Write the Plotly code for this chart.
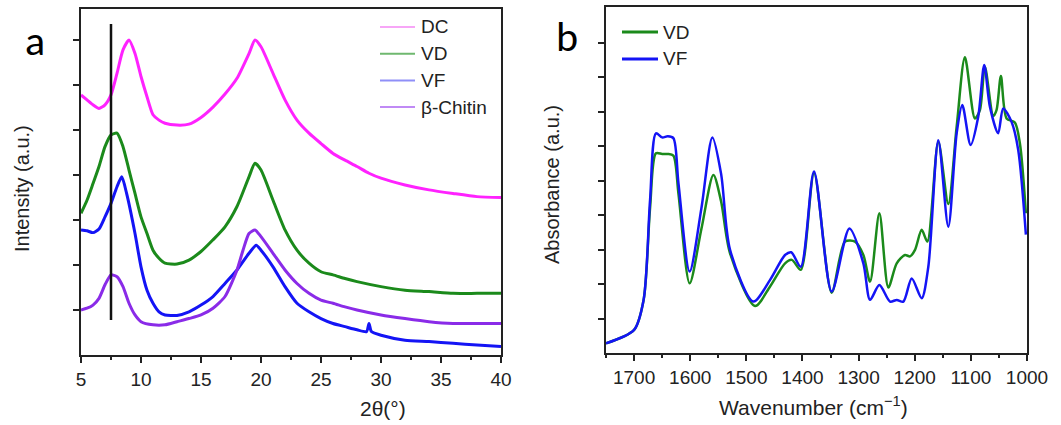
import plotly.graph_objects as go

# ---------------- Panel a: XRD ----------------
dc_x = [5, 5.5, 6, 6.5, 7, 7.5, 8, 8.5, 9, 9.5, 10, 10.5, 11, 11.5, 12, 13, 14, 15, 16, 17, 18, 19, 19.5, 20,
        21, 22, 23, 24, 25, 26, 27, 28, 29, 30, 32, 34, 36, 38, 40]
dc_y = [5.78, 5.67, 5.56, 5.48, 5.56, 5.78, 6.26, 6.78, 7.0, 6.70, 6.19, 5.74, 5.34, 5.22, 5.15, 5.11, 5.13,
        5.28, 5.51, 5.80, 6.15, 6.70, 7.0, 6.85, 6.26, 5.67, 5.22, 4.93, 4.70, 4.48, 4.33, 4.19, 4.04, 3.93,
        3.78, 3.67, 3.59, 3.52, 3.50]

vd_x = [5, 5.5, 6, 6.5, 7, 7.5, 8, 8.5, 9, 9.5, 10, 10.5, 11, 11.5, 12, 13, 14, 15, 16, 17, 18, 19, 19.5, 20,
        21, 22, 23, 24, 25, 26, 27, 28, 30, 32, 34, 36, 38, 40]
vd_y = [3.15, 3.44, 3.81, 4.19, 4.63, 4.89, 4.93, 4.63, 4.11, 3.59, 3.07, 2.70, 2.33, 2.15, 2.04, 2.02, 2.11,
        2.30, 2.56, 2.85, 3.30, 3.96, 4.26, 4.11, 3.44, 2.78, 2.33, 2.04, 1.85, 1.78, 1.70, 1.63, 1.52, 1.44,
        1.41, 1.37, 1.37, 1.37]

vf_x = [5, 5.5, 6, 6.5, 7, 7.5, 8, 8.4, 8.8, 9.5, 10, 10.5, 11, 11.5, 12, 13, 14, 15, 16, 17, 18, 19, 19.6, 20,
        21, 22, 23, 24, 25, 26, 27, 28, 28.8, 29, 29.2, 30, 32, 34, 36, 38, 40]
vf_y = [2.78, 2.76, 2.72, 2.80, 3.07, 3.37, 3.74, 3.96, 3.59, 2.70, 1.96, 1.44, 1.15, 0.96, 0.89, 0.88, 0.96,
        1.11, 1.30, 1.59, 1.89, 2.26, 2.44, 2.33, 1.96, 1.52, 1.15, 0.96, 0.81, 0.70, 0.63, 0.56, 0.52, 0.70,
        0.52, 0.44, 0.33, 0.30, 0.26, 0.22, 0.19]

bc_x = [5, 5.5, 6, 6.5, 7, 7.5, 8, 8.5, 9, 9.5, 10, 11, 12, 13, 14, 15, 16, 17, 18, 18.5, 19, 19.5, 20,
        21, 22, 23, 24, 25, 26, 27, 28, 30, 32, 34, 36, 38, 40]
bc_y = [1.0, 1.04, 1.11, 1.26, 1.56, 1.78, 1.74, 1.52, 1.15, 0.89, 0.74, 0.67, 0.67, 0.74, 0.81, 0.89, 1.04,
        1.30, 1.89, 2.33, 2.70, 2.78, 2.63, 2.26, 1.89, 1.59, 1.37, 1.22, 1.15, 1.07, 1.0, 0.89, 0.81, 0.74,
        0.70, 0.70, 0.70]

xrd_names = ["DC", "VD", "VF", "β-Chitin"]
ref_line_2theta = 7.5

# ---------------- Panel b: FTIR ----------------
vf_wn = [1750, 1700, 1683, 1671.5, 1661, 1650, 1640, 1630, 1621, 1601, 1580, 1560.5, 1545, 1529, 1487.4,
         1457.7, 1431, 1420, 1403, 1379.4, 1348, 1316.4, 1291.5, 1279.6, 1263, 1244, 1232, 1220.3, 1205.4,
         1187.6, 1175.8, 1158, 1140.2, 1125.3, 1115.3, 1100.5, 1086.9, 1076.2, 1066.1, 1051.3, 1042.4, 1027.5,
         1015.6, 1002]
vf_abs = [0.28, 0.67, 1.54, 4.43, 6.37, 6.25, 6.28, 6.23, 4.93, 2.36, 4.2, 6.25, 5.2, 2.99, 1.49,
          2.12, 2.84, 2.92, 2.50, 5.26, 1.78, 3.61, 2.60, 1.54, 1.97, 1.49, 1.54, 1.49, 2.16,
          1.59, 2.5, 6.17, 3.66, 6.37, 7.19, 6.03, 6.85, 8.35, 7.14, 6.37, 7.09, 6.70,
          5.88, 3.43]

vd_wn = [1750, 1700, 1683, 1671.5, 1661, 1650, 1640, 1630, 1621, 1601, 1580, 1558.7, 1545, 1529, 1484.5,
         1457.7, 1431, 1419, 1403, 1379.4, 1348, 1324.2, 1306.3, 1291.5, 1279.6, 1263, 1247, 1232.1, 1217.3,
         1208.4, 1199.5, 1187.6, 1177.5, 1158, 1140.2, 1125.3, 1110.6, 1092.8, 1083.9, 1075, 1060.2, 1054.3,
         1046.5, 1036.4, 1021.6, 1012.7, 1002]
vd_abs = [0.28, 0.67, 1.54, 4.2, 5.79, 5.77, 5.77, 5.72, 4.63, 2.02, 3.6, 5.16, 4.4, 2.89, 1.36,
          1.93, 2.6, 2.70, 2.41, 5.22, 1.75, 3.23, 3.23, 2.84, 2.07, 4.05, 1.90, 2.6, 2.84,
          2.8, 2.99, 3.57, 3.23, 6.12, 4.32, 6.56, 8.57, 6.80, 7.04, 8.30, 6.87, 7.04,
          8.03, 6.80, 6.68, 6.08, 4.05]

C_DC = "#ff22ff"
C_VD = "#1b8a1b"
C_VF = "#1414f5"
C_BC = "#8a2be8"
FONT = "Liberation Sans, Arial, sans-serif"
TXT = "#222222"
W, H = 1061, 425


def px(xp):
    return xp / W


def py(yp):
    return 1 - yp / H


fig = go.Figure()
for xs, ys, c in [(dc_x, dc_y, C_DC), (vd_x, vd_y, C_VD), (vf_x, vf_y, C_VF), (bc_x, bc_y, C_BC)]:
    fig.add_trace(go.Scatter(x=xs, y=ys, mode="lines", line=dict(color=c, width=3, shape="spline", smoothing=0.6),
                             xaxis="x", yaxis="y", showlegend=False, hoverinfo="skip"))

fig.add_trace(go.Scatter(x=vd_wn, y=vd_abs, mode="lines", line=dict(color=C_VD, width=2.5, shape="spline", smoothing=0.8),
                         xaxis="x2", yaxis="y2", showlegend=False))
fig.add_trace(go.Scatter(x=vf_wn, y=vf_abs, mode="lines", line=dict(color=C_VF, width=2.5, shape="spline", smoothing=0.8),
                         xaxis="x2", yaxis="y2", showlegend=False))

axis_common = dict(showline=True, linecolor=TXT, linewidth=1.5, mirror=True, ticks="outside",
                   tickcolor=TXT, tickwidth=1.5, ticklen=6, showgrid=False, zeroline=False, automargin=False,
                   tickfont=dict(family=FONT, size=19, color=TXT))

fig.update_layout(
    width=W, height=H, margin=dict(l=0, r=0, t=0, b=0, autoexpand=False),
    paper_bgcolor="white", plot_bgcolor="white", showlegend=False,
    xaxis=dict(domain=[px(81), px(501)], range=[5, 40], tickmode="array", tickvals=[5, 10, 15, 20, 25, 30, 35, 40],
               minor=dict(ticks="outside", dtick=2.5, tick0=5, ticklen=3, tickcolor=TXT, tickwidth=1.5),
               anchor="y", **axis_common),
    yaxis=dict(domain=[py(355), py(9)], range=[0, 7.69], tickvals=[1, 2, 3, 4, 5, 6, 7], showticklabels=False,
               anchor="x", **axis_common),
    xaxis2=dict(domain=[px(606), px(1027)], range=[1750, 1000], tickvals=[1700, 1600, 1500, 1400, 1300, 1200, 1100, 1000],
                minor=dict(ticks="outside", dtick=50, tick0=1000, ticklen=3, tickcolor=TXT, tickwidth=1.5),
                anchor="y2", **axis_common),
    yaxis2=dict(domain=[py(353), py(7)], range=[0, 10.03], tickvals=[1, 2, 3, 4, 5, 6, 7, 8, 9], showticklabels=False,
                anchor="x2", **axis_common),
)

# reference vertical line in panel a
fig.add_shape(type="line", xref="x", yref="y domain", x0=ref_line_2theta, x1=ref_line_2theta, y0=0.101, y1=0.957,
              line=dict(color="#111111", width=2.5))

# panel a legend
leg_a_colors = ["#f7a6f7", "#6fb86f", "#8f8ff8", "#c08af5"]
for i, (nm, c) in enumerate(zip(xrd_names, leg_a_colors)):
    yp = py(27 + i * 26.7)
    fig.add_shape(type="line", xref="paper", yref="paper", x0=px(380), x1=px(415), y0=yp, y1=yp,
                  line=dict(color=c, width=2))
    fig.add_annotation(x=px(419), y=yp, xref="paper", yref="paper", text=nm, showarrow=False,
                       xanchor="left", yanchor="middle", font=dict(family=FONT, size=19, color=TXT))

# panel b legend
for i, (nm, c) in enumerate([("VD", C_VD), ("VF", C_VF)]):
    yp = py(32 + i * 27)
    fig.add_shape(type="line", xref="paper", yref="paper", x0=px(622), x1=px(658), y0=yp, y1=yp,
                  line=dict(color=c, width=3))
    fig.add_annotation(x=px(661), y=yp, xref="paper", yref="paper", text=nm, showarrow=False,
                       xanchor="left", yanchor="middle", font=dict(family=FONT, size=19, color=TXT))

# titles and panel labels
fig.add_annotation(x=px(383), y=py(408), xref="paper", yref="paper", text="2θ(°)", showarrow=False,
                   xanchor="center", yanchor="middle", font=dict(family=FONT, size=21, color=TXT))
fig.add_annotation(x=px(22), y=py(189), xref="paper", yref="paper", text="Intensity (a.u.)", showarrow=False,
                   textangle=-90, xanchor="center", yanchor="middle", font=dict(family=FONT, size=20, color=TXT))
fig.add_annotation(x=px(813), y=py(406), xref="paper", yref="paper", text="Wavenumber (cm<sup>−1</sup>)", showarrow=False,
                   xanchor="center", yanchor="middle", font=dict(family=FONT, size=21, color=TXT))
fig.add_annotation(x=px(552), y=py(185), xref="paper", yref="paper", text="Absorbance (a.u.)", showarrow=False,
                   textangle=-90, xanchor="center", yanchor="middle", font=dict(family=FONT, size=20, color=TXT))
fig.add_annotation(x=px(35), y=py(40), xref="paper", yref="paper", text="a", showarrow=False,
                   xanchor="center", yanchor="middle", font=dict(family="Carlito, Liberation Sans, sans-serif", size=42, color="black"))
fig.add_annotation(x=px(567), y=py(37), xref="paper", yref="paper", text="b", showarrow=False,
                   xanchor="center", yanchor="middle", font=dict(family="Carlito, Liberation Sans, sans-serif", size=42, color="black"))

post = ("document.body.style.margin='0';document.body.style.padding='0';"
        "var gd=document.getElementById('{plot_id}');Plotly.relayout(gd,{width:1061,height:425});")
fig.write_html("out.html", config={"responsive": False, "displayModeBar": False}, post_script=post)
